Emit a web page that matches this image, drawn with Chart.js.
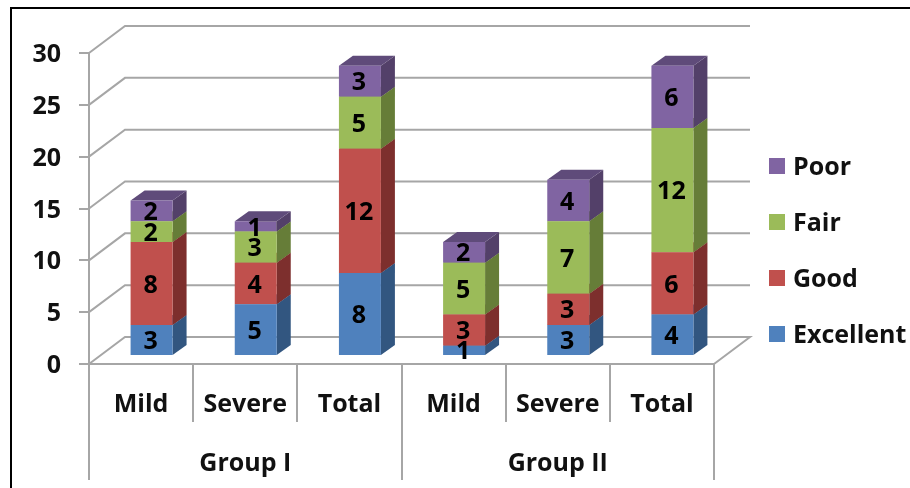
<!DOCTYPE html>
<html>
<head>
<meta charset="utf-8">
<title>Grades by group</title>
<script src="https://cdn.jsdelivr.net/npm/chart.js@4"></script>
<style>
  html, body { margin: 0; padding: 0; background: #fff; }
  canvas { display: block; }
</style>
</head>
<body>
<canvas id="myChart" width="910" height="488"></canvas>
<script>
const categories = ["Mild", "Severe", "Total", "Mild", "Severe", "Total"];
const groups = ["Group I", "Group II"];

const excellent = [3, 5, 8, 1, 3, 4];
const good = [8, 4, 12, 3, 3, 6];
const fair = [2, 3, 5, 5, 7, 12];
const poor = [2, 1, 3, 2, 4, 6];

const seriesNames = ["Excellent", "Good", "Fair", "Poor"];
const frontColors = ["#4f81bd", "#c0504d", "#9bbb59", "#8064a2"];
const sideColors = ["#325680", "#7d2f2d", "#667d38", "#534069"];
const topColors = ["#3d6492", "#8f3a38", "#748d41", "#5f4b7a"];

const gridColor = "#a6a6a6";
const textColor = "#111";
const fontFamily = "'Open Sans', 'Noto Sans', sans-serif";
const labelFont = { family: fontFamily, size: 25, weight: "bold" };
const canvasFont = "bold 25px " + fontFamily;

// fake 3D: how far the back wall and the bars sit behind the front axis plane
const wallDx = 36;
const wallDy = -27;
const barDx = 10.5;
const barDy = -8;
const depthDx = 14;
const depthDy = -10;

function fillPoly(ctx, points, color) {
  ctx.fillStyle = color;
  ctx.beginPath();
  points.forEach(([x, y], i) => (i ? ctx.lineTo(x, y) : ctx.moveTo(x, y)));
  ctx.closePath();
  ctx.fill();
}

const frame = {
  id: "frame",
  beforeDraw(chart) {
    const { ctx } = chart;
    ctx.save();
    ctx.fillStyle = "#000";
    ctx.fillRect(10, 7, 900, 2);
    ctx.fillRect(10, 7, 2, 481);
    ctx.restore();
  },
};

// back wall grid and floor
const walls = {
  id: "walls",
  beforeDatasetsDraw(chart) {
    const { ctx, chartArea, scales } = chart;
    const { left, right } = chartArea;
    ctx.save();
    ctx.strokeStyle = gridColor;
    ctx.lineWidth = 2;
    scales.y.ticks.forEach((tick) => {
      const y = scales.y.getPixelForValue(tick.value);
      ctx.beginPath();
      ctx.moveTo(left, y);
      ctx.lineTo(left + wallDx, y + wallDy);
      ctx.lineTo(right + wallDx, y + wallDy);
      if (tick.value === 0) ctx.lineTo(right, y);
      ctx.stroke();
    });
    ctx.restore();
  },
};

function barBox(bar) {
  const { x, y, base, width } = bar.getProps(["x", "y", "base", "width"], true);
  return {
    l: x - width / 2 + barDx,
    r: x + width / 2 + barDx,
    t: y + barDy,
    b: base + barDy,
  };
}

// side and top faces go under the fronts, which the library draws shifted back
const bars3d = {
  id: "bars3d",
  beforeDatasetsDraw(chart) {
    const { ctx } = chart;
    ctx.save();
    chart.data.datasets.forEach((ds, i) => {
      chart.getDatasetMeta(i).data.forEach((bar) => {
        const { l, r, t, b } = barBox(bar);
        fillPoly(ctx, [[r, t], [r + depthDx, t + depthDy], [r + depthDx, b + depthDy], [r, b]], sideColors[i]);
        fillPoly(ctx, [[l, t], [l + depthDx, t + depthDy], [r + depthDx, t + depthDy], [r, t]], topColors[i]);
      });
    });
    ctx.restore();
    ctx.save();
    ctx.translate(barDx, barDy);
  },
  afterDatasetsDraw(chart) {
    const { ctx } = chart;
    ctx.restore();
    ctx.save();
    ctx.font = canvasFont;
    ctx.fillStyle = "#000";
    ctx.textAlign = "center";
    ctx.textBaseline = "middle";
    chart.data.datasets.forEach((ds, i) => {
      chart.getDatasetMeta(i).data.forEach((bar, j) => {
        const { l, r, t, b } = barBox(bar);
        ctx.fillText(String(ds.data[j]), (l + r) / 2 - 1, (t + b) / 2 + 2);
      });
    });
    ctx.restore();
  },
};

const sideLegend = {
  id: "sideLegend",
  afterDraw(chart) {
    const { ctx } = chart;
    ctx.save();
    ctx.font = canvasFont;
    ctx.textBaseline = "middle";
    chart.data.datasets.forEach((ds, i) => {
      const y = 334 - i * 56;
      ctx.fillStyle = ds.backgroundColor;
      ctx.fillRect(769, y - 8, 16, 16);
      ctx.fillStyle = textColor;
      ctx.fillText(ds.label, 793, y + 1.5);
    });
    ctx.restore();
  },
};

const seriesValues = [excellent, good, fair, poor];

new Chart(document.getElementById("myChart"), {
  type: "bar",
  data: {
    labels: categories,
    datasets: seriesValues.map((values, i) => ({
      label: seriesNames[i],
      data: values,
      backgroundColor: frontColors[i],
      categoryPercentage: 0.403,
      barPercentage: 1,
      clip: false,
    })),
  },
  plugins: [frame, walls, bars3d, sideLegend],
  options: {
    responsive: false,
    animation: false,
    layout: { padding: { top: 53, right: 196, left: 0, bottom: 0 } },
    plugins: { legend: { display: false }, tooltip: { enabled: false } },
    scales: {
      x: {
        stacked: true,
        afterFit: (scale) => { scale.height = 58; },
        border: { color: gridColor, width: 2 },
        grid: { drawOnChartArea: false, color: gridColor, lineWidth: 2, tickLength: 58, offset: true },
        ticks: { color: textColor, font: labelFont, padding: -32, maxRotation: 0, autoSkip: false },
      },
      x2: {
        type: "category",
        labels: groups,
        position: "bottom",
        offset: true,
        afterFit: (scale) => { scale.height = 66; },
        border: { display: false },
        grid: { drawOnChartArea: false, color: gridColor, lineWidth: 2, tickLength: 58, offset: true },
        ticks: { color: textColor, font: labelFont, padding: -31, maxRotation: 0, autoSkip: false },
      },
      y: {
        stacked: true,
        min: 0,
        max: 30,
        afterFit: (scale) => { scale.width = 89; },
        border: { color: gridColor, width: 2 },
        grid: { drawOnChartArea: false, color: gridColor, lineWidth: 2, tickLength: 10 },
        ticks: { stepSize: 5, color: textColor, font: labelFont, padding: 18, labelOffset: 2 },
      },
    },
  },
});
</script>
</body>
</html>
